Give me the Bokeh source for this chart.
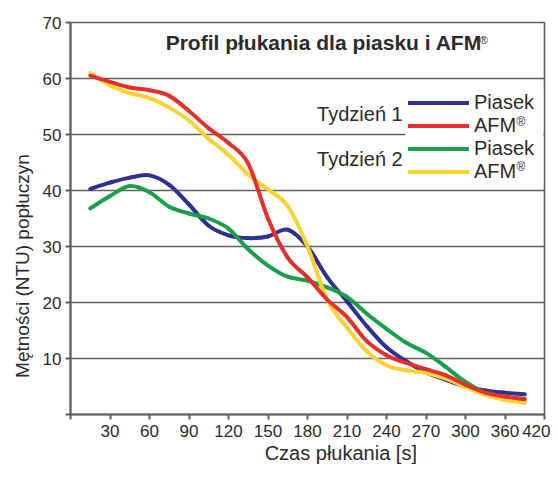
from bokeh.plotting import figure
from bokeh.models import (FixedTicker, Label, Legend, LegendItem, Range1d, BoxAnnotation)
from bokeh.embed import file_html
from bokeh.resources import INLINE

# ---- data ----
time_s = [15, 30, 45, 60, 75, 90, 105, 120, 135, 150, 165, 180, 195, 210,
          225, 240, 255, 270, 285, 300, 330, 360, 390]
piasek_t1 = [40.3, 41.4, 42.3, 42.7, 41.0, 37.5, 33.7, 32.0, 31.5, 31.8, 33.0, 30.0,
             24.5, 20.2, 15.8, 12.0, 9.5, 7.5, 6.2, 5.0, 4.3, 3.9, 3.6]
afm_t1 = [60.5, 59.4, 58.4, 57.9, 56.9, 54.2, 51.1, 48.5, 44.8, 35.0, 28.0, 24.5,
          20.5, 17.4, 13.1, 10.6, 9.2, 8.1, 7.0, 5.3, 3.9, 3.2, 2.7]
piasek_t2 = [36.8, 39.0, 40.8, 39.7, 37.1, 35.9, 35.0, 33.2, 29.5, 26.6, 24.6, 23.9,
             22.7, 21.0, 18.0, 15.3, 12.8, 11.0, 8.5, 5.8, 3.9, 3.2, 2.8]
afm_t2 = [61.0, 58.8, 57.4, 56.5, 54.8, 52.5, 49.2, 46.4, 42.8, 40.2, 37.2, 30.0,
          20.5, 15.5, 11.3, 8.8, 7.9, 7.4, 6.4, 4.9, 3.5, 2.6, 2.1]

x_tick_labels = ["30", "60", "90", "120", "150", "180", "210", "240", "270",
                 "300", "360", "420"]
y_ticks = [0, 10, 20, 30, 40, 50, 60, 70]

series_names = ["Piasek", "AFM", "Piasek", "AFM"]
series_colors = ["#2e3192", "#e8302a", "#1b9e4b", "#fad232"]

title_text = "Profil płukania dla piasku i AFM"
week_labels = ["Tydzień 1", "Tydzień 2"]
x_title = "Czas płukania [s]"
y_title = "Mętności (NTU)  popłuczyn"

NBSP = "\u00a0"


def axis_pos(s):
    # the time axis is evenly spaced per tick: 30 s steps up to 300, then 60 s steps
    return s / 30.0 if s <= 300 else 10 + (s - 300) / 60.0


def smooth_segments(xv, yv):
    """Catmull-Rom style smoothing (like a spreadsheet 'smoothed line'):
    returns bezier segment endpoints and control points through the data."""
    n = len(xv)
    x0, y0, x1, y1, cx0, cy0, cx1, cy1 = ([] for _ in range(8))
    for i in range(n - 1):
        pm = max(i - 1, 0)
        pp = min(i + 2, n - 1)
        x0.append(xv[i]); y0.append(yv[i])
        x1.append(xv[i + 1]); y1.append(yv[i + 1])
        cx0.append(xv[i] + (xv[i + 1] - xv[pm]) / 6.0)
        cy0.append(yv[i] + (yv[i + 1] - yv[pm]) / 6.0)
        cx1.append(xv[i + 1] - (xv[pp] - xv[i]) / 6.0)
        cy1.append(yv[i + 1] - (yv[pp] - yv[i]) / 6.0)
    return dict(x0=x0, y0=y0, x1=x1, y1=y1, cx0=cx0, cy0=cy0, cx1=cx1, cy1=cy1)


FONT = "Liberation Sans"
TXT = "#2b2b2b"
GRID = "#5f5f5f"

p = figure(width=550, height=469, output_backend="svg", toolbar_location=None,
           x_range=Range1d(0, 12), y_range=Range1d(0, 70),
           min_border_left=70, min_border_right=6, min_border_top=22,
           min_border_bottom=55)

p.background_fill_color = "white"
p.border_fill_color = "white"
p.outline_line_color = GRID
p.outline_line_width = 1.6

p.xgrid.visible = False
p.ygrid.grid_line_color = GRID
p.ygrid.grid_line_width = 1.6
p.ygrid.ticker = FixedTicker(ticks=y_ticks)

xa = p.xaxis[0]
xa.ticker = FixedTicker(ticks=list(range(0, 13)))
overrides = {0: ""}
for i, lab in enumerate(x_tick_labels):
    overrides[i + 1] = lab
xa.major_label_overrides = overrides
# the original's axis titles sit off-centre: pad with non-breaking spaces
xa.axis_label = NBSP * 12 + x_title

ya = p.yaxis[0]
ya.ticker = FixedTicker(ticks=y_ticks)
ya.major_label_overrides = {0: ""}
ya.axis_label = y_title + NBSP * 17

for ax in (xa, ya):
    ax.axis_line_color = GRID
    ax.axis_line_width = 2
    ax.major_tick_line_color = GRID
    ax.major_tick_line_width = 2
    ax.major_tick_in = 0
    ax.major_tick_out = 5
    ax.minor_tick_line_color = None
    ax.major_label_text_font = FONT
    ax.major_label_text_font_size = "17px"
    ax.major_label_text_color = TXT
    ax.axis_label_text_font = FONT
    ax.axis_label_text_font_size = "20px"
    ax.axis_label_text_font_style = "normal"
    ax.axis_label_text_color = TXT
ya.axis_label_text_font_size = "19px"
xa.major_label_standoff = 5
xa.axis_label_standoff = 2
ya.major_label_standoff = 4
ya.axis_label_standoff = 7

xs = [axis_pos(t) for t in time_s]
series = [piasek_t1, afm_t1, piasek_t2, afm_t2]
renderers = {}
# draw order: blue, green, yellow, red (red on top)
for idx in [0, 2, 3, 1]:
    seg = smooth_segments(xs, series[idx])
    r = p.bezier(source=seg, x0="x0", y0="y0", x1="x1", y1="y1",
                 cx0="cx0", cy0="cy0", cx1="cx1", cy1="cy1",
                 line_color=series_colors[idx], line_width=4, line_cap="round")
    renderers[idx] = r

# white patch behind the legend (breaks the 50 grid line like the original)
p.add_layout(BoxAnnotation(left=8.48, right=11.97, bottom=41.0, top=58.0,
                           fill_color="white", fill_alpha=1.0, line_color=None))

items = [LegendItem(label=series_names[i], renderers=[renderers[i]]) for i in range(4)]
legend = Legend(items=items, location=(338, 231), padding=6, spacing=0,
                glyph_width=61, glyph_height=23, label_height=23,
                label_standoff=5, margin=0,
                border_line_color=None, background_fill_alpha=0.0,
                label_text_font=FONT, label_text_font_size="20px",
                label_text_color=TXT)
p.add_layout(legend)

# title inside the plot area
p.add_layout(Label(x=2.41, y=66.4, text=title_text, text_font=FONT,
                   text_font_size="21px", text_font_style="bold",
                   text_color=TXT, text_align="left", text_baseline="middle"))
p.add_layout(Label(x=10.36, y=68.0, text="®", text_font=FONT,
                   text_font_size="11px", text_color=TXT,
                   text_align="left", text_baseline="top"))

# week labels beside the legend
for lab, yv in zip(week_labels, [53.75, 45.7]):
    p.add_layout(Label(x=8.41, y=yv, text=lab, text_font=FONT,
                       text_font_size="20px", text_color=TXT,
                       text_align="right", text_baseline="middle"))
# registered marks after the AFM legend labels
for yv in [53.5, 45.5]:
    p.add_layout(Label(x=11.29, y=yv, text="®", text_font=FONT,
                       text_font_size="12px", text_color=TXT,
                       text_align="left", text_baseline="top"))

open("out.html", "w").write(file_html(p, INLINE))
